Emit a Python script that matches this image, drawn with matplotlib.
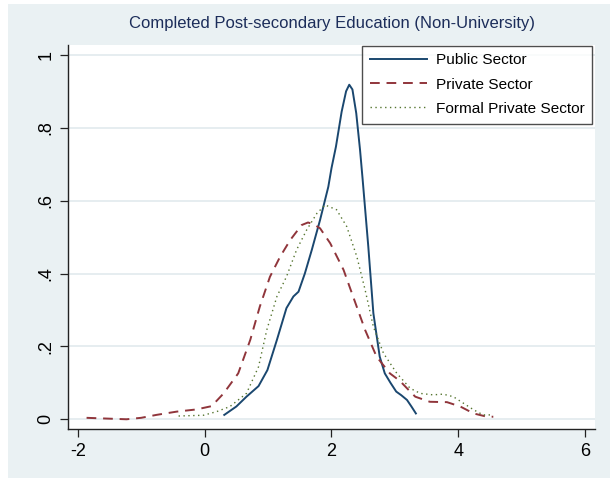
import matplotlib.pyplot as plt
from matplotlib.patches import Rectangle

plt.rcParams['font.family'] = ['Liberation Sans', 'DejaVu Sans']

# kernel density curves
public_x = [0.31, 0.50, 0.66, 0.85, 0.99, 1.14, 1.29, 1.40, 1.48, 1.58, 1.69, 1.82, 1.95,
            2.00, 2.07, 2.16, 2.23, 2.28, 2.33, 2.39, 2.45, 2.49, 2.58, 2.66, 2.76, 2.84,
            2.93, 3.02, 3.10, 3.19, 3.26, 3.33]
public_y = [0.012, 0.035, 0.062, 0.091, 0.135, 0.218, 0.305, 0.337, 0.350, 0.400, 0.465,
            0.547, 0.638, 0.689, 0.748, 0.844, 0.900, 0.918, 0.905, 0.840, 0.739, 0.660,
            0.474, 0.291, 0.172, 0.126, 0.100, 0.076, 0.066, 0.053, 0.035, 0.016]

private_x = [-1.86, -1.55, -1.23, -1.00, -0.76, -0.44, -0.13, 0.11, 0.30, 0.53, 0.72,
             0.87, 1.03, 1.19, 1.35, 1.53, 1.63, 1.72, 1.82, 1.98, 2.19, 2.34, 2.53,
             2.71, 2.92, 3.08, 3.19, 3.32, 3.55, 3.82, 4.03, 4.24, 4.45, 4.55]
private_y = [0.004, 0.002, 0.000, 0.004, 0.012, 0.021, 0.027, 0.036, 0.071, 0.126,
             0.218, 0.309, 0.391, 0.446, 0.492, 0.533, 0.540, 0.535, 0.524, 0.483,
             0.410, 0.337, 0.245, 0.172, 0.126, 0.105, 0.085, 0.062, 0.048, 0.047,
             0.035, 0.016, 0.007, 0.007]

formal_x = [-0.41, -0.02, 0.19, 0.40, 0.66, 0.85, 0.98, 1.14, 1.29, 1.45, 1.61, 1.77,
            1.90, 2.08, 2.24, 2.40, 2.53, 2.66, 2.82, 3.03, 3.24, 3.40, 3.60, 3.76,
            3.92, 4.08, 4.24, 4.39, 4.55]
formal_y = [0.009, 0.011, 0.021, 0.035, 0.071, 0.144, 0.245, 0.337, 0.391, 0.465,
            0.520, 0.565, 0.588, 0.575, 0.529, 0.446, 0.355, 0.254, 0.181, 0.126,
            0.085, 0.071, 0.067, 0.069, 0.062, 0.044, 0.026, 0.012, 0.012]

yticks = [0, 0.2, 0.4, 0.6, 0.8, 1]
ytick_labels = ['0', '.2', '.4', '.6', '.8', '1']
xticks = [-2, 0, 2, 4, 6]

W, H = 610, 478
fig = plt.figure(figsize=(W / 100, H / 100), dpi=100)
fig.patch.set_facecolor('white')
# Stata-like graph region
fig.patches.append(Rectangle((8 / W, 0), 1 - 8 / W, 1 - 4 / H, transform=fig.transFigure,
                             facecolor='#EAF1F3', edgecolor='none', zorder=-10))

ax = fig.add_axes([68.3 / W, (H - 429.3) / H, (595 - 68.3) / W, (429.3 - 45) / H])
ax.set_facecolor('white')

ax.plot(public_x, public_y, color='#1A476F', lw=1.4, label='Public Sector')
ax.plot(private_x, private_y, color='#90353B', lw=1.4, ls=(0, (5, 3.5)), label='Private Sector')
ax.plot(formal_x, formal_y, color='#55752F', lw=1.0, ls=(0, (1, 2.5)), label='Formal Private Sector')

ax.set_xlim(-2.148, 6.153)
ax.set_ylim(-0.0275, 1.027)
ax.set_xticks(xticks)
ax.set_xticklabels([str(t) for t in xticks])
ax.set_yticks(yticks)
ax.set_yticklabels(ytick_labels, rotation=90, va='center')
ax.grid(axis='y', color='#E4ECEF', lw=1.3)
ax.set_axisbelow(True)

for s in ['top', 'right']:
    ax.spines[s].set_visible(False)
for s in ['left', 'bottom']:
    ax.spines[s].set_color('#222222')
    ax.spines[s].set_linewidth(1.0)
ax.tick_params(length=6, width=0.9, color='#222222', labelsize=13, pad=4)

ax.set_title('Completed Post-secondary Education (Non-University)', color='#1C2D5A',
             fontsize=12, pad=12)

leg = ax.legend(loc='upper right', bbox_to_anchor=(0.995, 0.998), borderaxespad=0,
                fontsize=11.1, frameon=True, fancybox=False, edgecolor='#222222',
                handlelength=3.7, handletextpad=0.6, labelspacing=0.66, borderpad=0.5)
leg.get_frame().set_linewidth(1.0)

fig.savefig('out.png', dpi=100)
